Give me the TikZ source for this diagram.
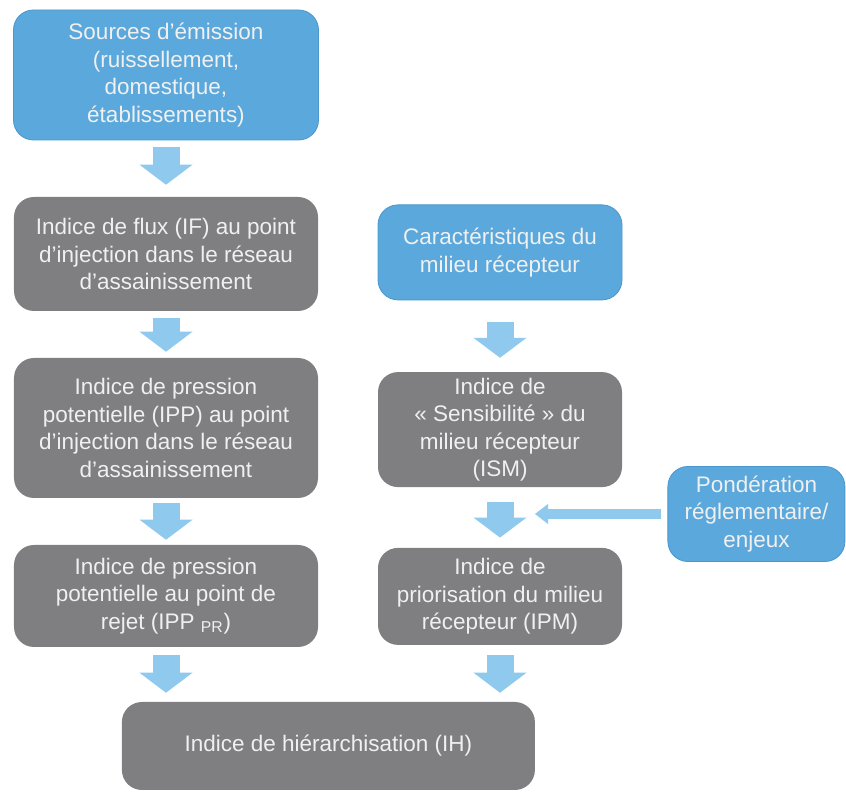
\documentclass[tikz,border=0pt]{standalone}
\usepackage{fontspec}
\setmainfont{Liberation Sans}
\usepackage{xcolor}
\usetikzlibrary{positioning, arrows.meta, calc}
\definecolor{clrBlue}    {HTML}{5BA8DC}
\definecolor{clrBlueEdge}{HTML}{4B98CF}
\definecolor{clrGrey}    {HTML}{7F7F82}
\definecolor{clrArrow}   {HTML}{8FCAEE}
\definecolor{clrTxt}     {HTML}{F0F0F0}

\begin{document}
\begin{tikzpicture}[
  box/.style={rounded corners=0.5cm, align=center, inner sep=2pt,
              font=\fontsize{16}{19.5}\selectfont, text=clrTxt},
  bluebox/.style={box, fill=clrBlue, draw=clrBlueEdge, line width=0.6pt},
  greybox/.style={box, fill=clrGrey},
  blk/.style={-{Triangle[width=1.325cm, length=0.5cm, line width=0pt]},
              line width=0.675cm, clrArrow},
  side/.style={-{Triangle[width=0.5cm, length=0.325cm, line width=0pt]},
               line width=0.25cm, clrArrow},
]
\useasboundingbox (0,0) rectangle (21.15,19.8);

% left column
\node[bluebox, minimum width=7.625cm, minimum height=3.25cm]
  (src) at (4.15, 17.925)
  {Sources d’émission\\(ruissellement,\\domestique,\\établissements)};
\node[greybox, minimum width=7.6cm, minimum height=2.85cm]
  (iflux) at (4.15, 13.45)
  {Indice de flux (IF) au point\\d’injection dans le réseau\\d’assainissement};
\node[greybox, minimum width=7.6cm, minimum height=3.5cm]
  (ipp) at (4.15, 9.1)
  {Indice de pression\\potentielle (IPP) au point\\d’injection dans le réseau\\d’assainissement};
\node[greybox, minimum width=7.6cm, minimum height=2.55cm]
  (ipppr) at (4.15, 4.9)
  {Indice de pression\\potentielle au point de\\rejet (IPP \textsubscript{PR})};

% right column
\node[bluebox, minimum width=6.1cm, minimum height=2.375cm]
  (carac) at (12.5, 13.49)
  {Caractéristiques du\\milieu récepteur};
\node[greybox, minimum width=6.1cm, minimum height=2.875cm]
  (ism) at (12.5, 9.06)
  {Indice de\\«~Sensibilité~» du\\milieu récepteur\\(ISM)};
\node[greybox, minimum width=6.1cm, minimum height=2.425cm]
  (ipm) at (12.5, 4.89)
  {Indice de\\priorisation du milieu\\récepteur (IPM)};
\node[bluebox, minimum width=4.425cm, minimum height=2.375cm]
  (pond) at (18.91, 6.95)
  {Pondération\\réglementaire/\\enjeux};

% bottom
\node[greybox, minimum width=10.325cm, minimum height=2.2cm]
  (ih) at (8.21, 1.15) {Indice de hiérarchisation (IH)};

\coordinate (mid) at ($(ism.south)!0.5!(ipm.north)$);

\draw[blk, shorten <=0.175cm, shorten >=0.3cm] (src) -- (iflux);
\draw[blk, shorten <=0.175cm, shorten >=0.15cm] (iflux) -- (ipp);
\draw[blk, shorten <=0.125cm, shorten >=0.125cm] (ipp) -- (ipppr);
\draw[blk, shorten <=0.55cm, shorten >=0.35cm] (carac) -- (ism);
\draw[blk, shorten <=0.375cm, shorten >=0.25cm] (ism) -- (ipm);
\draw[side, shorten <=0.15cm, shorten >=0.875cm] (pond.west) -- (pond.west -| mid);
\draw[blk, shorten <=0.2cm, shorten >=0.225cm] (ipppr.south) -- (ipppr.south |- ih.north);
\draw[blk, shorten <=0.25cm, shorten >=0.225cm] (ipm.south) -- (ipm.south |- ih.north);
\end{tikzpicture}
\end{document}
